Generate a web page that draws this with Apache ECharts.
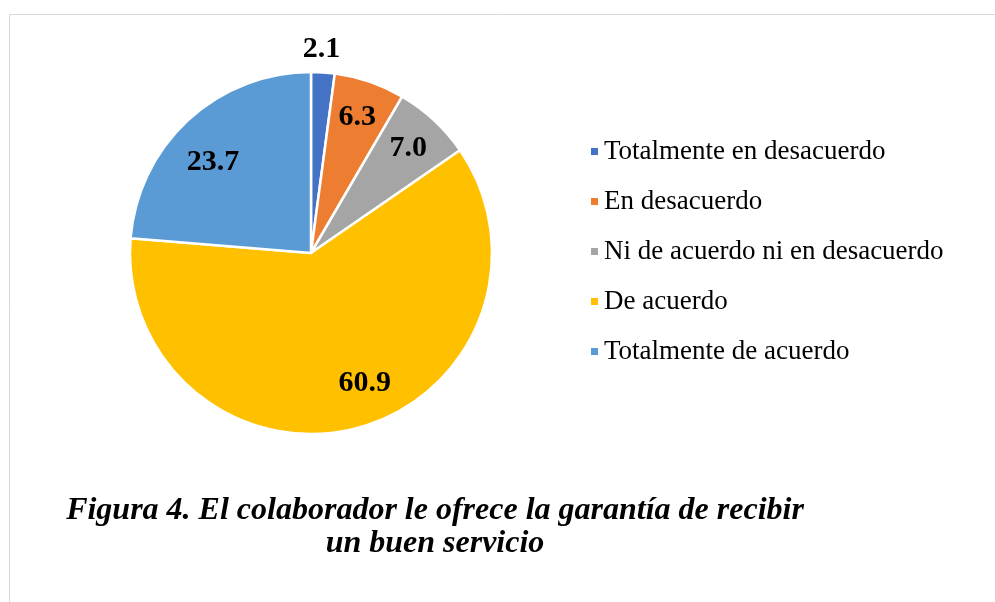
<!DOCTYPE html>
<html>
<head>
<meta charset="utf-8">
<script src="https://cdn.jsdelivr.net/npm/echarts@6/dist/echarts.min.js"></script>
<style>
  html, body { margin: 0; padding: 0; background: #fff; }
  #myChart { width: 995px; height: 602px; }
</style>
</head>
<body>
<div id="myChart"></div>
<script>
  // categorías y porcentajes
  var categorias = ['Totalmente en desacuerdo', 'En desacuerdo', 'Ni de acuerdo ni en desacuerdo', 'De acuerdo', 'Totalmente de acuerdo'];
  var valores = [2.1, 6.3, 7.0, 60.9, 23.7];
  var colores = ['#4472C4', '#ED7D31', '#A5A5A5', '#FFC000', '#5B9BD5'];
  var titulo = 'Figura 4. El colaborador le ofrece la garantía de recibir\nun buen servicio';

  var fuente = '"Liberation Serif", "Times New Roman", serif';

  // ajustes de posición de etiquetas (como en Excel)
  var desplaz = [[1, -61], null, null, [17, -8], [-1, 14]];

  var datosPie = categorias.map(function (c, i) {
    return { name: c, value: valores[i], itemStyle: { color: colores[i] } };
  });
  // serie invisible solo para las etiquetas (anillo medio ~140px)
  var datosEtiq = categorias.map(function (c, i) {
    var d = { name: c, value: valores[i] };
    if (desplaz[i]) d.label = { offset: desplaz[i] };
    return d;
  });

  var myChart = echarts.init(document.getElementById('myChart'));
  var option = {
    animation: false,
    color: colores,
    graphic: [{
      type: 'rect',
      shape: { x: 9.5, y: 14.5, width: 1000, height: 600 },
      style: { fill: 'none', stroke: '#d9d9d9', lineWidth: 1 },
      silent: true
    }],
    title: {
      text: titulo,
      left: 430,
      top: 489,
      textAlign: 'center',
      textStyle: {
        fontFamily: fuente,
        fontSize: 32,
        fontWeight: 'bold',
        fontStyle: 'italic',
        color: '#000',
        lineHeight: 33
      }
    },
    legend: {
      orient: 'vertical',
      left: 584,
      top: 133,
      itemWidth: 9,
      itemHeight: 9,
      itemGap: 23,
      icon: 'rect',
      data: categorias,
      textStyle: {
        fontFamily: fuente,
        fontSize: 27,
        color: '#000'
      }
    },
    series: [{
      name: 'pie',
      type: 'pie',
      center: [311, 253],
      radius: [0, 181],
      startAngle: 90,
      clockwise: true,
      silent: true,
      itemStyle: { borderColor: '#fff', borderWidth: 2.5 },
      label: { show: false },
      labelLine: { show: false },
      data: datosPie
    }, {
      name: 'etiquetas',
      type: 'pie',
      center: [311, 253],
      radius: [100, 180],
      startAngle: 90,
      clockwise: true,
      silent: true,
      itemStyle: { color: 'rgba(0,0,0,0)' },
      label: {
        show: true,
        position: 'inside',
        formatter: function (p) { return p.value.toFixed(1); },
        fontFamily: fuente,
        fontSize: 30,
        fontWeight: 'bold',
        color: '#000'
      },
      labelLine: { show: false },
      data: datosEtiq
    }]
  };
  myChart.setOption(option);
</script>
</body>
</html>
